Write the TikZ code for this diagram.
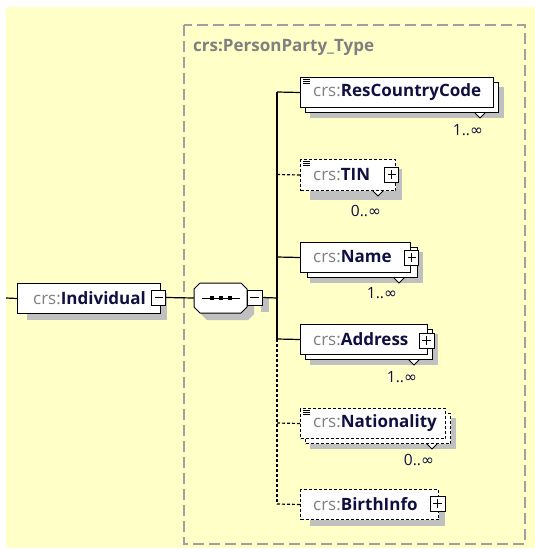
\documentclass[tikz,border=0pt]{standalone}
\usepackage{fontspec}
\setmainfont{Open Sans}
\newfontfamily\symfont{DejaVu Sans}
\usetikzlibrary{calc}
\definecolor{bgy}{RGB}{255,255,200}
\definecolor{frameg}{RGB}{160,160,160}
\definecolor{shad}{RGB}{192,192,192}
\definecolor{pref}{RGB}{128,128,128}
\definecolor{nmc}{RGB}{16,16,64}
\newcommand\pfx[1]{{\color{pref}#1}}
\newcommand\infsym{{\symfont ∞}}
\begin{document}
\begin{tikzpicture}[x=1pt,y=-1pt,
  box/.style={draw, fill=white, line width=1pt, inner sep=0, anchor=north west},
  dbox/.style={box, dash pattern=on 3pt off 2pt},
  lbl/.style={anchor=west, inner sep=0, font=\fontsize{17}{19}\selectfont, text=nmc},
  mult/.style={inner sep=0, font=\fontsize{15.5}{17}\selectfont, text=nmc},
  conn/.style={line width=1.2pt},
  dconn/.style={conn, dash pattern=on 3pt off 2pt},
  shadowc/.style={fill=shad},
  card/.style={fill=white, draw, line width=0.8pt},
  icon/.style={line width=0.7pt},
  pmbox/.style={draw, fill=white, line width=1pt, minimum width=14pt, minimum height=15pt, inner sep=0},
  plusbox/.style={pmbox, path picture={
      \draw[line width=1pt] ([xshift=3pt]path picture bounding box.west) -- ([xshift=-3pt]path picture bounding box.east);
      \draw[line width=1pt] ([yshift=-3pt]path picture bounding box.north) -- ([yshift=3pt]path picture bounding box.south);}},
  minusbox/.style={pmbox, path picture={
      \draw[line width=1pt] ([xshift=3pt]path picture bounding box.west) -- ([xshift=-3pt]path picture bounding box.east);}}
]
\useasboundingbox (0,0) rectangle (535,549);
\fill[white] (0,0) rectangle (535,549);
\fill[bgy] (6,7) rectangle (535,548);

% type frame
\draw[frameg, line width=1.5pt, dash pattern=on 11pt off 5pt] (184,25) rectangle (525,544);
\node[anchor=west, inner sep=0, text=pref, font=\bfseries\fontsize{17}{19}\selectfont] (title) at (193,47) {crs:PersonParty\_Type};

% ---------- shadows ----------
\fill[shadowc] (27,293) rectangle (167,320);             % Individual
\fill[shadowc] (201,290) -- (248,290) -- (254,296) -- (254,314) -- (248,320) -- (207,320) -- (201,314) -- cycle; % sequence
\fill[shadowc] (261,297) rectangle (269,312);
\fill[shadowc] (310,87) rectangle (504,118);             % ResCountryCode
\fill[shadowc] (310,169) rectangle (402,200);            % TIN
\fill[shadowc] (310,252) rectangle (423,283);            % Name
\fill[shadowc] (310,334) rectangle (438,365);            % Address
\fill[shadowc] (310,418) rectangle (456,449);            % Nationality
\fill[shadowc] (310,499) rectangle (445,526);            % BirthInfo

% ---------- cardinality markers ----------
\filldraw[card] (474,112) -- (480,118) -- (486,112) -- (480,106) -- cycle;
\filldraw[card] (372,190) -- (378,196) -- (384,190) -- (378,184) -- cycle;
\filldraw[card] (393,277) -- (399,283) -- (405,277) -- (399,271) -- cycle;
\filldraw[card] (408,359) -- (414,365) -- (420,359) -- (414,353) -- cycle;
\filldraw[card] (426,443) -- (432,449) -- (438,443) -- (432,437) -- cycle;

% ---------- Individual ----------
\node[box, minimum width=143pt, minimum height=30pt] (ind) at (17,283) {};
\node[lbl] (indt) at (33,298) {\pfx{crs:}\textbf{Individual}};
\node[minusbox] (indm) at (158.5,297.5) {};

% ---------- sequence compositor ----------
\node[inner sep=0, minimum width=53pt, minimum height=30pt] (seq) at (220.5,298) {};
\filldraw[fill=white, line width=1pt] (200,283) -- (241,283) -- (247,289) -- (247,307) -- (241,313) -- (200,313) -- (194,307) -- (194,289) -- cycle;
\draw[line width=1pt] (202,298) -- (240,298);
\foreach \dx in {212,221,230} \fill (\dx-2,296) rectangle (\dx+2,300);
\node[minusbox, minimum width=15pt] (seqm) at (254.5,297.5) {};

% ---------- ResCountryCode ----------
\node[box, minimum width=193pt, minimum height=30pt] (rccb) at (305,82) {};
\node[box, minimum width=193pt, minimum height=30pt] (rcc) at (300,77) {};
\draw[icon] (303,79.5) -- (310,79.5) (303,81.5) -- (310,81.5) (303,83.5) -- (310,83.5);
\node[lbl] (rcct) at (313,92) {\pfx{crs:}\textbf{ResCountryCode}};
\node[mult] (rccm) at (468,130) {1..\infsym};

% ---------- TIN ----------
\node[dbox, minimum width=95pt, minimum height=31pt] (tin) at (300,159) {};
\draw[icon] (303,161.5) -- (310,161.5) (303,163.5) -- (310,163.5) (303,165.5) -- (310,165.5);
\node[lbl] (tint) at (313,174.5) {\pfx{crs:}\textbf{TIN}};
\node[plusbox] (tinp) at (391.5,174.5) {};
\node[mult] (tinm) at (366,211) {0..\infsym};

% ---------- Name ----------
\node[box, minimum width=110pt, minimum height=30pt] (nameb) at (307,247) {};
\node[box, minimum width=110pt, minimum height=30pt] (name) at (300,242) {};
\node[lbl] (namet) at (313,257) {\pfx{crs:}\textbf{Name}};
\node[plusbox] (namep) at (411.5,257.5) {};
\node[mult] (namem) at (382,293) {1..\infsym};

% ---------- Address ----------
\node[box, minimum width=127pt, minimum height=30pt] (addrb) at (305,329) {};
\node[box, minimum width=127pt, minimum height=30pt] (addr) at (300,324) {};
\node[lbl] (addrt) at (313,339) {\pfx{crs:}\textbf{Address}};
\node[plusbox, minimum width=15pt] (addrp) at (426.5,340.5) {};
\node[mult] (addrm) at (402,377) {1..\infsym};

% ---------- Nationality ----------
\node[dbox, minimum width=145pt, minimum height=30pt] (natb) at (305,413) {};
\node[dbox, minimum width=145pt, minimum height=30pt] (nat) at (300,408) {};
\draw[icon] (303,410.5) -- (310,410.5) (303,412.5) -- (310,412.5) (303,414.5) -- (310,414.5);
\node[lbl] (natt) at (313,423) {\pfx{crs:}\textbf{Nationality}};
\node[mult] (natm) at (419,460) {0..\infsym};

% ---------- BirthInfo ----------
\node[dbox, minimum width=138pt, minimum height=30pt] (birth) at (300,489) {};
\node[lbl] (birtht) at (313,504) {\pfx{crs:}\textbf{BirthInfo}};
\node[plusbox, minimum width=15pt] (birthp) at (437.5,503.5) {};

% ---------- connectors ----------
\coordinate (lstart) at (6,298);
\coordinate (v1) at (277,92);
\coordinate (v2) at (277,174.5);
\coordinate (v3) at (277,257);
\coordinate (vs) at (277,298);
\coordinate (v4) at (277,339);
\coordinate (v5) at (277,423);
\coordinate (v6) at (277,504);
\draw[conn] (lstart) -- (ind.west);
\draw[conn] (indm.east) -- (seq.west);
\draw[conn] (seqm.east) -- (vs);
\draw[conn] (v1) -- (v4);
\draw[dconn] (v4) -- (v6);
\draw[conn] (v1) -- (rcc.west);
\draw[dconn] (v2) -- (tin.west);
\draw[conn] (v3) -- (name.west);
\draw[conn] (v4) -- (addr.west);
\draw[dconn] (v5) -- (nat.west);
\draw[dconn] (v6) -- (birth.west);
\end{tikzpicture}
\end{document}
